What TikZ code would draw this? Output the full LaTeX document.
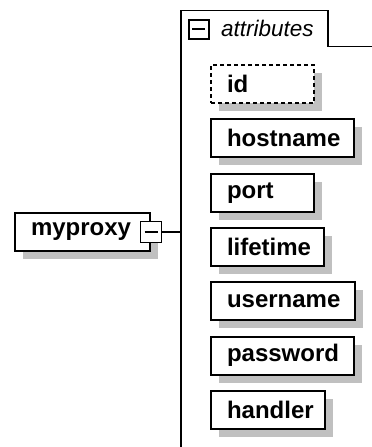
\documentclass[tikz,border=0pt]{standalone}
\usepackage{fontspec}
\setmainfont{Liberation Sans}
\usetikzlibrary{shadows}
\definecolor{shadowgray}{RGB}{192,192,192}
\tikzset{
  attbox/.style={draw, line width=2pt, fill=white, anchor=north west,
    minimum height=38pt, inner xsep=16pt, inner ysep=0pt, align=left,
    font=\fontsize{24}{26}\selectfont\bfseries,
    drop shadow={shadow xshift=8pt, shadow yshift=-8pt, fill=shadowgray, opacity=1}},
  optbox/.style={attbox, dash pattern=on 4pt off 3pt},
  expbox/.style={draw, line width=1.8pt, fill=white, minimum width=21pt,
    minimum height=21pt, inner sep=0pt},
  frameline/.style={line width=1.8pt}
}
\begin{document}
\begin{tikzpicture}[x=1pt,y=-1pt]
\useasboundingbox (0,0) rectangle (372,447);
\coordinate (frame) at (181,0);
\draw[frameline] (181,447) -- (181,10.5) -- (328,10.5) -- (328,46.5) -- (372,46.5);

\node[expbox, minimum width=20pt, minimum height=19pt] (attexp) at (198.7,29.3) {};
\draw[frameline] ([xshift=-6.5pt]attexp.center) -- ([xshift=6.5pt]attexp.center);
\node[anchor=base west, inner sep=0pt, font=\fontsize{22.5}{24}\selectfont\itshape] (atttitle) at (221,36.5) {attributes};

\node[optbox, text width=71pt] (id) at (210,64) {id};
\foreach \name/\w [count=\i] in {hostname/143, port/103, lifetime/113, username/144, password/143, handler/114} {
  \pgfmathsetmacro\tw{\w-32}
  \pgfmathsetmacro\y{64+54.33*\i}
  \node[attbox, text width=\tw pt] (\name) at (210,\y) {\name};
}

\node[attbox, text width=103pt] (myproxy) at (14,212) {myproxy};
\node[expbox] (myproxyexp) at (myproxy.east) {};
\draw[frameline] ([xshift=-6.5pt]myproxyexp.center) -- ([xshift=6.5pt]myproxyexp.center);
\draw[frameline] (myproxyexp.east) -- (myproxyexp.east -| frame);
\end{tikzpicture}
\end{document}
